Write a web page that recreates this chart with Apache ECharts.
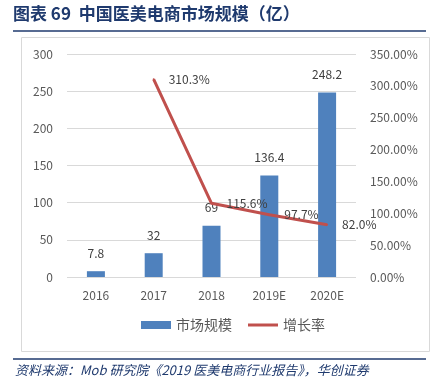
<!DOCTYPE html>
<html><head><meta charset="utf-8">
<script src="https://cdn.jsdelivr.net/npm/echarts@6/dist/echarts.min.js"></script>
<style>html,body{margin:0;padding:0;background:#fff}#c{width:437px;height:382px}</style>
</head><body><div id="c"></div>
<script>
var categories = ['2016', '2017', '2018', '2019E', '2020E'];
var marketSize = [7.8, 32, 69, 136.4, 248.2];
var growthRate = [null, 310.3, 115.6, 97.7, 82.0];
var leftTicks = [0, 50, 100, 150, 200, 250, 300];
var rightTicks = [0, 50, 100, 150, 200, 250, 300, 350];

var chart = echarts.init(document.getElementById('c'));
var font = '"Noto Sans CJK SC", "Open Sans", sans-serif';
chart.setOption({
  animation: false,
  textStyle: { fontFamily: font },
  graphic: [
    { type: 'text', left: 13, top: 5, style: { text: '图表 69  中国医美电商市场规模（亿）', font: 'bold 17px "Noto Sans CJK SC", serif', fill: '#1F3A6E' } },
    { type: 'line', shape: { x1: 13, y1: 31, x2: 426, y2: 31 }, style: { stroke: '#1F3A6E', lineWidth: 1.5 } },
    { type: 'rect', shape: { x: 21.5, y: 37.5, width: 408, height: 314 }, style: { fill: 'none', stroke: '#D9D9D9', lineWidth: 1 }, z: -1 },
    { type: 'line', shape: { x1: 13, y1: 359, x2: 426, y2: 359 }, style: { stroke: '#1F3A6E', lineWidth: 1.5 } },
    { type: 'text', left: 15, top: 364, style: { text: '资料来源：Mob 研究院《2019 医美电商行业报告》，华创证券', font: 'italic 13px "Noto Sans CJK SC", serif', fill: '#1F3A6E' } }
  ],
  grid: { left: 67, right: 81, top: 54, bottom: 105 },
  legend: {
    bottom: 45, left: 136, itemGap: 16, itemWidth: 30, itemHeight: 8,
    textStyle: { color: '#595959', fontSize: 14, fontFamily: font },
    data: [
      { name: '市场规模', icon: 'rect' },
      { name: '增长率', icon: 'path://M0,0 L30,0 L30,3 L0,3 Z' }
    ]
  },
  xAxis: {
    type: 'category', data: categories,
    axisLine: { show: false }, axisTick: { show: false },
    axisLabel: { color: '#595959', fontSize: 12, margin: 12 }
  },
  yAxis: [
    { type: 'value', min: 0, max: 300, interval: 50,
      axisLine: { show: false }, axisTick: { show: false },
      axisLabel: { color: '#595959', fontSize: 12, margin: 14 },
      splitLine: { lineStyle: { color: '#D9D9D9' } } },
    { type: 'value', min: 0, max: 350, interval: 50,
      axisLine: { show: false }, axisTick: { show: false },
      axisLabel: { color: '#595959', fontSize: 12, margin: 14, formatter: function (v) { return v.toFixed(2) + '%'; } },
      splitLine: { show: false } }
  ],
  series: [
    { name: '市场规模', type: 'bar', data: marketSize, barWidth: 18,
      itemStyle: { color: '#4F81BD' },
      label: { show: true, position: 'top', distance: 12, color: '#404040', fontSize: 12 } },
    { name: '增长率', type: 'line', yAxisIndex: 1, data: growthRate,
      symbol: 'circle', symbolSize: 2, showSymbol: true,
      lineStyle: { color: '#C0504D', width: 3 }, itemStyle: { color: '#C0504D' },
      label: { show: true, position: 'right', distance: 14, color: '#404040', fontSize: 12,
        formatter: function (p) { var v = Array.isArray(p.value) ? p.value[1] : p.value; return (v == null || v === '-') ? '' : Number(v).toFixed(1) + '%'; } } }
  ]
});
</script></body></html>
